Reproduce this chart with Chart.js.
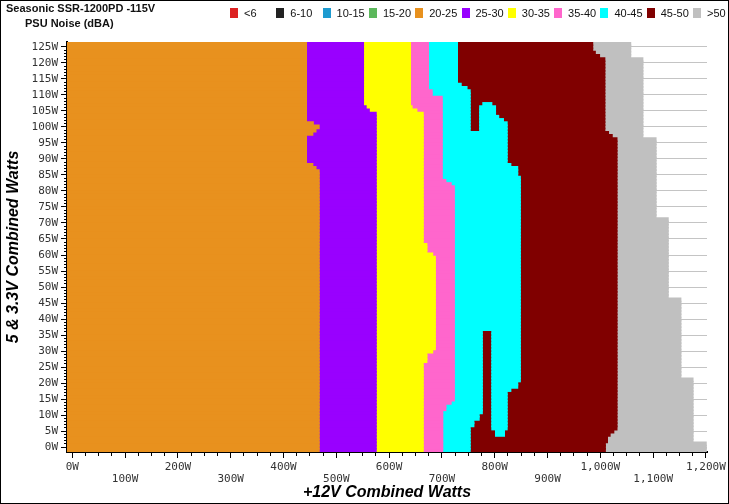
<!DOCTYPE html>
<html>
<head>
<meta charset="utf-8">
<script src="https://cdn.jsdelivr.net/npm/chart.js@4.4.1/dist/chart.umd.min.js"></script>
<style>
  html, body { margin: 0; padding: 0; background: #fff; }
  #wrap { position: relative; width: 729px; height: 504px; overflow: hidden; font-family: "Liberation Sans", Arial, sans-serif; }
  #c { position: absolute; left: 0; top: 0; }
  #frame { position: absolute; left: 0; top: 0; width: 729px; height: 504px; box-sizing: border-box; border: 1px solid #000; pointer-events: none; }
  .ttl { position: absolute; font-weight: bold; font-size: 11px; line-height: 13px; color: #111; white-space: nowrap; }
  .lg { position: absolute; top: 8px; height: 10px; }
  .lg i { position: absolute; left: 0; top: 0; width: 8px; height: 10px; }
  .lg span { position: absolute; left: 14px; top: -2px; font-size: 11px; line-height: 14px; color: #111; white-space: nowrap; }
</style>
</head>
<body>
<div id="wrap">
  <canvas id="c" width="729" height="504"></canvas>
  <div class="ttl" style="left:6px;top:2px">Seasonic SSR-1200PD -115V</div>
  <div class="ttl" style="left:25px;top:17px">PSU Noise (dBA)</div>
  <div id="legend"></div>
  <div id="frame"></div>
</div>
<script>
// noise bands (dBA)
const bandLabels = ['<6', '6-10', '10-15', '15-20', '20-25', '25-30', '30-35', '35-40', '40-45', '45-50', '>50'];
const bandColors = ['#DD2222', '#222222', '#1E9BD0', '#5CB85C', '#E8911E', '#9900FF', '#FFFF00', '#FF66CC', '#00FFFF', '#800000', '#C0C0C0'];

// 5V + 3.3V load rows, 1W apart (-1 and 126 just pad the plot edges)
const rows = [];
for (let w = -1; w <= 126; w++) rows.push(w);

// right edge of each band along +12V, as runs [fromRow, toRow, watts]
const orangeEnd  = [[-1,86,467],[87,87,461],[88,88,455],[89,97,443],[98,98,455],[99,99,461],[100,100,467],[101,101,456],[102,126,443]];
const purpleEnd  = [[-1,104,575],[105,105,562],[106,106,556],[107,126,551]];
const yellowEnd  = [[-1,26,664],[27,29,671],[30,30,682],[31,59,687],[60,60,682],[61,63,671],[64,104,664],[105,105,652],[106,106,643],[107,126,640]];
const pinkEnd    = [[-1,11,701],[12,13,707],[14,14,717],[15,81,723],[82,82,717],[83,83,707],[84,109,700],[110,111,681],[112,126,674]];
const cyanEnd    = [[-1,6,753],[7,8,760],[9,10,770],[11,36,776],[37,84,848],[85,87,843],[88,88,830],[89,98,823],[99,111,753],[112,112,747],[113,113,736],[114,126,729]];
const darkredEnd = [[-1,1,1009],[2,3,1013],[4,4,1018],[5,5,1025],[6,96,1031],[97,97,1022],[98,98,1015],[99,121,1008],[122,122,998],[123,123,990],[124,126,985]];
const grayEnd    = [[-1,1,1200],[2,21,1175],[22,46,1152],[47,71,1128],[72,96,1105],[97,121,1080],[122,126,1057]];
// 40-45 pockets inside the 45-50 area
const islandFrom = [[4,5,802],[6,36,795],[99,106,772],[107,107,778]];
const islandTo   = [[4,5,818],[6,17,823],[18,18,830],[19,20,843],[21,36,848],[99,101,823],[102,102,816],[103,103,807],[104,106,801],[107,107,794]];

const X_MIN = -10, X_MAX = 1202;

function at(runs, r) {
  for (const [a, b, v] of runs) if (r >= a && r <= b) return v;
  return null;
}
function span(fromRuns, toRuns) {
  return rows.map(r => {
    const a = fromRuns ? at(fromRuns, r) : X_MIN;
    const b = at(toRuns, r);
    return (a == null || b == null) ? null : [a, b];
  });
}

const edges = [null, orangeEnd, purpleEnd, yellowEnd, pinkEnd, cyanEnd, darkredEnd, grayEnd];
const datasets = bandLabels.map((lab, i) => ({
  label: lab,
  data: i < 4 ? rows.map(() => null) : span(edges[i - 4], edges[i - 3]),
  backgroundColor: bandColors[i]
}));
datasets.push({ label: '40-45', data: span(islandFrom, islandTo), backgroundColor: bandColors[8], order: -1 });

// html legend, fixed columns like the original
const lg = document.getElementById('legend');
bandLabels.forEach((lab, i) => {
  const d = document.createElement('div');
  d.className = 'lg';
  d.style.left = (230 + i * 46.3) + 'px';
  d.innerHTML = '<i style="background:' + bandColors[i] + '"></i><span></span>';
  d.querySelector('span').textContent = lab;
  lg.appendChild(d);
});

const isMajorRow = i => rows[i] >= 0 && rows[i] <= 125 && rows[i] % 5 === 0;
const inRange = i => rows[i] >= 0 && rows[i] <= 125;
const tickFont = { family: 'DejaVu Sans Mono', size: 11, lineHeight: 1.1 };
const titleFont = { family: 'Liberation Sans', size: 16, weight: 'bold', style: 'italic' };

Chart.defaults.font.family = 'Liberation Sans';

new Chart(document.getElementById('c'), {
  type: 'bar',
  data: { labels: rows, datasets: datasets },
  options: {
    responsive: false,
    animation: false,
    indexAxis: 'y',
    grouped: false,
    barPercentage: 1,
    categoryPercentage: 1,
    borderWidth: 0,
    inflateAmount: 0.8, // hide seams between the 3.2px rows
    layout: { padding: { top: 42, right: 22, bottom: 0, left: 0 } },
    plugins: { legend: { display: false }, tooltip: { enabled: false } },
    scales: {
      y: {
        type: 'category',
        reverse: true,
        offset: true,
        afterFit: s => { s.width = 67; },
        border: { color: '#000', width: 2 },
        grid: {
          offset: false,
          tickLength: 6,
          color: ctx => isMajorRow(ctx.index) ? '#c4c4c4' : 'rgba(0,0,0,0)',
          tickColor: ctx => inRange(ctx.index) ? '#000' : 'rgba(0,0,0,0)',
          tickBorderDash: ctx => isMajorRow(ctx.index) ? [] : [0, 3, 2, 10]
        },
        ticks: {
          autoSkip: false,
          padding: 3,
          color: '#333',
          font: tickFont,
          callback: (v, i) => isMajorRow(i) ? rows[i] + 'W' : ''
        },
        title: { display: true, text: '5 & 3.3V Combined Watts', color: '#000', font: titleFont, padding: { top: 4, bottom: 0 } }
      },
      x: {
        type: 'linear',
        min: X_MIN,
        max: X_MAX,
        afterFit: s => { s.height = 52; },
        afterBuildTicks: s => {
          const t = [];
          for (let v = 0; v <= 1200; v += 25) t.push({ value: v });
          s.ticks = t;
        },
        border: { color: '#000', width: 2 },
        grid: {
          drawOnChartArea: false,
          tickLength: 6,
          color: '#000',
          tickBorderDash: ctx => (ctx.tick && ctx.tick.value % 100 === 0) ? [] : [3, 10]
        },
        ticks: {
          autoSkip: false,
          maxRotation: 0,
          minRotation: 0,
          padding: 3,
          color: '#333',
          font: tickFont,
          callback: v => {
            if (v % 100 !== 0) return '';
            const s = v.toLocaleString('en-US') + 'W';
            return (v / 100) % 2 ? ['', s] : s;
          }
        },
        title: { display: true, text: '+12V Combined Watts', color: '#000', font: titleFont, padding: { top: 0, bottom: 2 } }
      }
    }
  }
});
</script>
</body>
</html>
